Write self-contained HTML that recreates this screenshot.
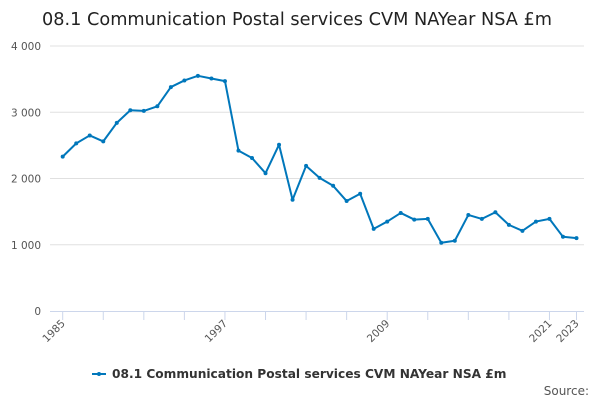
<!DOCTYPE html>
<html><head><meta charset="utf-8"><style>
body{margin:0;background:#fff;font-family:"DejaVu Sans","Liberation Sans",sans-serif}
</style></head><body>
<svg width="600" height="400" id="c" xmlns="http://www.w3.org/2000/svg" font-family="DejaVu Sans, sans-serif">
<text x="297" y="25" text-anchor="middle" font-size="17.7" fill="#222">08.1 Communication Postal services CVM NAYear NSA £m</text>
<g id="grid"></g><g id="axes"></g><g id="series"></g>
<g>
<line x1="92" y1="374" x2="106" y2="374" stroke="#0077bb" stroke-width="2"/><circle cx="99" cy="374" r="2" fill="#0077bb"/>
<text x="112" y="378" font-size="12.2" font-weight="bold" fill="#333">08.1 Communication Postal services CVM NAYear NSA £m</text>
</g>
<text x="589" y="395" text-anchor="end" font-size="12" fill="#555">Source:</text>
</svg>
<script>
const years=[];for(let y=1985;y<=2023;y++)years.push(y);
const values=[2330,2530,2650,2560,2840,3030,3020,3090,3380,3480,3550,3510,3470,2420,2310,2080,2510,1680,2190,2010,1890,1660,1770,1240,1350,1480,1380,1390,1030,1060,1450,1390,1490,1300,1210,1350,1390,1120,1100];
const yTicks=[0,1000,2000,3000,4000];
const yTickLabels=["0","1 000","2 000","3 000","4 000"];
const xLabels=[1985,1997,2009,2021,2023];
const NS="http://www.w3.org/2000/svg";
const X=y=>62.7+(y-1985)*(576.5-62.7)/38;
const Y=v=>311-v*66.25/1000;
function mk(t,a,p){const e=document.createElementNS(NS,t);for(const k in a)e.setAttribute(k,a[k]);p.appendChild(e);return e;}
const grid=document.getElementById('grid'),axes=document.getElementById('axes'),ser=document.getElementById('series');
yTicks.forEach((v,i)=>{
 if(v>0){const l=mk('line',{x1:50,x2:584,y1:Y(v),y2:Y(v),stroke:'#e0e0e0'},grid);
 
 }
 const t=mk('text',{x:41,y:Y(v)+4,'text-anchor':'end','font-size':10.5,fill:'#555'},axes);t.textContent=yTickLabels[i];
 
 
});
const ax=mk('line',{x1:50,x2:584,y1:311.5,y2:311.5,stroke:'#ccd6eb'},axes);


years.filter(y=>(y-1985)%3===0||y===2023).forEach(y=>{
 const t=mk('line',{x1:X(y),x2:X(y),y1:311,y2:320,stroke:'#ccd6eb'},axes);
 
 
});
xLabels.forEach(y=>{
 const t=mk('text',{x:X(y)+3,y:324,'text-anchor':'end','font-size':10.5,fill:'#555',transform:`rotate(-45 ${X(y)+3} 324)`},axes);t.textContent=y;
 
 
});
const p=mk('polyline',{points:years.map((y,i)=>X(y)+','+Y(values[i])).join(' '),fill:'none',stroke:'#0077bb','stroke-width':2,'stroke-linejoin':'round'},ser);


years.forEach((y,i)=>{const c=mk('circle',{cx:X(y),cy:Y(values[i]),r:2,fill:'#0077bb'},ser);
 
 });
</script>
</body></html>
